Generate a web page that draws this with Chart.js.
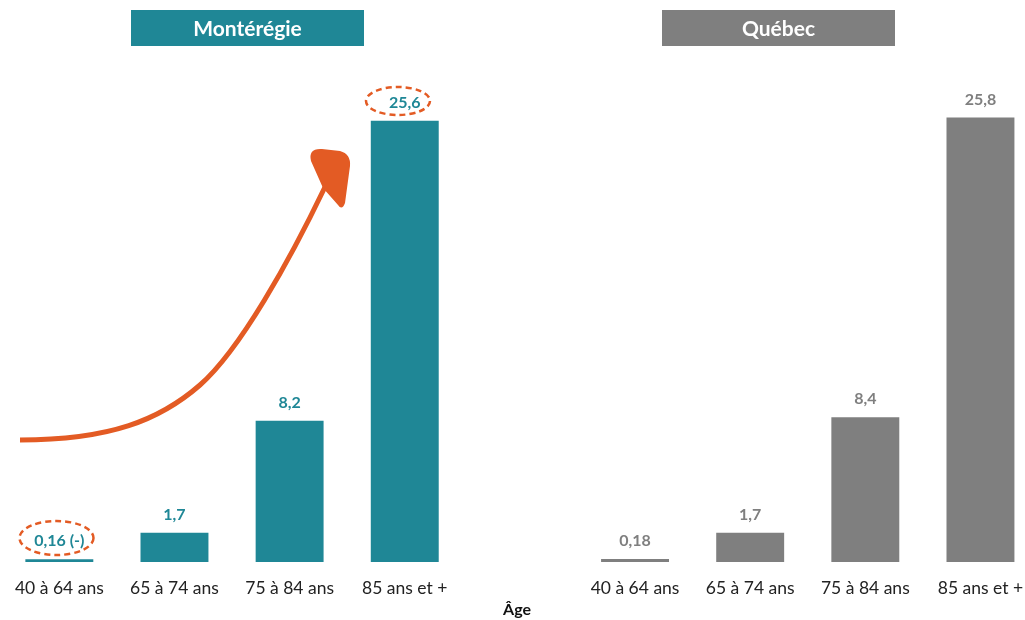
<!DOCTYPE html>
<html>
<head>
<meta charset="utf-8">
<script src="https://cdn.jsdelivr.net/npm/chart.js@4.4.1/dist/chart.umd.min.js"></script>
<style>
  html, body { margin: 0; padding: 0; background: #fff; overflow: hidden; }
  #wrap { position: absolute; left: -1px; top: 0; width: 1040px; height: 620px; }
</style>
</head>
<body>
<div id="wrap"><canvas id="chart"></canvas></div>
<script>
// Données : taux par groupe d'âge
const ageGroups = ['40 à 64 ans', '65 à 74 ans', '75 à 84 ans', '85 ans et +'];
const monteregie = [0.16, 1.7, 8.2, 25.6];
const quebec = [0.18, 1.7, 8.4, 25.8];
const monteregieLabels = ['0,16 (-)', '1,7', '8,2', '25,6'];
const quebecLabels = ['0,18', '1,7', '8,4', '25,8'];
const panelTitles = ['Montérégie', 'Québec'];
const axisTitle = 'Âge';

const TEAL = '#1f8796';
const GREY = '#7f7f7f';
const ORANGE = '#e35b24';
const FONT = 'Lato, "Open Sans", sans-serif';

// une catégorie vide sépare les deux panneaux
const labels = [...ageGroups, '', ...ageGroups];
const values = [...monteregie, null, ...quebec];
const valueLabels = [...monteregieLabels, '', ...quebecLabels];
const colors = [...monteregie.map(() => TEAL), 'rgba(0,0,0,0)', ...quebec.map(() => GREY)];

const decorPlugin = {
    id: 'decor',
    afterDatasetsDraw(chart) {
        const ctx = chart.ctx;
        const meta = chart.getDatasetMeta(0);

        // étiquettes de valeur
        ctx.save();
        ctx.font = 'bold 16px ' + FONT;
        ctx.textAlign = 'center';
        ctx.textBaseline = 'middle';
        meta.data.forEach((bar, i) => {
            if (values[i] == null) return;
            ctx.fillStyle = colors[i];
            ctx.fillText(valueLabels[i], bar.x, bar.y - 18);
        });
        ctx.restore();

        // titre de l'axe
        ctx.save();
        ctx.font = 'bold 16px ' + FONT;
        ctx.fillStyle = '#111';
        ctx.textAlign = 'center';
        ctx.textBaseline = 'middle';
        ctx.fillText(axisTitle, 518, 610);
        ctx.restore();

        // bandeaux de titre
        const boxes = [[132, TEAL], [663, GREY]];
        ctx.save();
        boxes.forEach(([x, c], i) => {
            ctx.fillStyle = c;
            ctx.fillRect(x, 10, 233, 36);
            ctx.fillStyle = '#fff';
            ctx.font = 'bold 21px ' + FONT;
            ctx.textAlign = 'center';
            ctx.textBaseline = 'middle';
            ctx.fillText(panelTitles[i], x + 116.5, 29);
        });
        ctx.restore();

        // ellipses pointillées
        ctx.save();
        ctx.strokeStyle = ORANGE;
        ctx.lineWidth = 2.5;
        ctx.setLineDash([6, 4]);
        [[57.5, 538, 37, 17], [399, 101, 32, 14]].forEach(([cx, cy, rx, ry]) => {
            ctx.beginPath();
            ctx.ellipse(cx, cy, rx, ry, 0, 0, Math.PI * 2);
            ctx.stroke();
        });
        ctx.restore();

        // flèche courbe
        ctx.save();
        ctx.strokeStyle = ORANGE;
        ctx.fillStyle = ORANGE;
        ctx.lineWidth = 5;
        ctx.beginPath();
        ctx.moveTo(21, 440);
        ctx.bezierCurveTo(111, 440, 161, 420, 201, 385);
        ctx.bezierCurveTo(241, 350, 291, 260, 326, 187);
        ctx.stroke();
        ctx.beginPath();
        ctx.moveTo(324, 188);
        ctx.lineTo(312, 161);
        ctx.quadraticCurveTo(309, 148, 323, 149);
        ctx.lineTo(341, 151);
        ctx.quadraticCurveTo(352, 154, 351, 166);
        ctx.lineTo(346, 203);
        ctx.quadraticCurveTo(343, 211, 339, 205);
        ctx.closePath();
        ctx.fill();
        ctx.restore();
    }
};

new Chart(document.getElementById('chart'), {
    type: 'bar',
    data: {
        labels: labels,
        datasets: [{
            data: values,
            backgroundColor: colors,
            borderWidth: 0,
            categoryPercentage: 1,
            barPercentage: 0.59
        }]
    },
    options: {
        responsive: true,
        maintainAspectRatio: false,
        animation: false,
        layout: { padding: { top: 45, left: 0, right: 0, bottom: 5 } },
        plugins: {
            legend: { display: false },
            tooltip: { enabled: false }
        },
        scales: {
            y: {
                display: false,
                min: 0,
                max: 30
            },
            x: {
                grid: { display: false, drawTicks: false },
                border: { display: false },
                ticks: {
                    color: '#222',
                    font: { size: 17.5, family: FONT },
                    padding: 16,
                    maxRotation: 0,
                    autoSkip: false
                }
            }
        }
    },
    plugins: [decorPlugin]
});
</script>
</body>
</html>
